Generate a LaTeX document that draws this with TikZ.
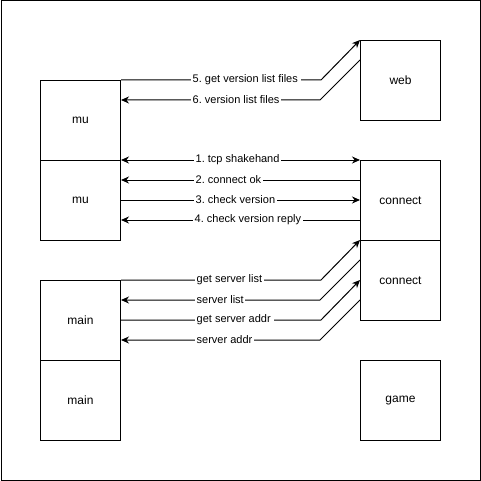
\documentclass[tikz,border=0pt]{standalone}
\usepackage{fontspec}
\setmainfont{Liberation Sans}
\usetikzlibrary{arrows.meta,calc}
\frenchspacing
\begin{document}
\begin{tikzpicture}[x=1pt,y=-1pt,
  box/.style={draw,line width=1pt,minimum width=80pt,minimum height=80pt,inner sep=0pt,font=\fontsize{12}{14}\selectfont,anchor=north west},
  arr/.style={line width=1pt,-{Stealth[length=8pt,width=7pt]}},
  biarr/.style={line width=1pt,{Stealth[length=8pt,width=7pt]}-{Stealth[length=8pt,width=7pt]}},
  lbl/.style={fill=white,inner sep=1.5pt,anchor=west,font=\fontsize{11}{13}\selectfont}]
\useasboundingbox (0,0) rectangle (481,481);
\draw[line width=1pt] (1,1) rectangle (480,480);
\node[box] (mu1) at (40,80) {mu};
\node[box] (mu2) at (40,160) {mu};
\node[box] (main1) at (40,280) {main};
\node[box] (main2) at (40,360) {main};
\node[box] (web) at (360,40) {web};
\node[box] (con1) at (360,160) {connect};
\node[box] (con2) at (360,240) {connect};
\node[box] (game) at (360,360) {game};
% web exchange
\draw[arr] (mu1.north east) -- ++(200,0) -- (web.north west);
\draw[arr] ($(web.north west)+(0,20)$) -- ++(-40,40) -- ($(mu1.north east)+(0,20)$);
% connect exchange
\draw[biarr] (mu2.north east) -- (con1.north west);
\draw[arr] ($(con1.north west)+(0,20)$) -- ($(mu2.north east)+(0,20)$);
\draw[arr] ($(mu2.north east)+(0,40)$) -- ($(con1.north west)+(0,40)$);
\draw[arr] ($(con1.north west)+(0,60)$) -- ($(mu2.north east)+(0,60)$);
% server exchange
\draw[arr] (main1.north east) -- ++(200,0) -- (con2.north west);
\draw[arr] ($(con2.north west)+(0,20)$) -- ++(-40,40) -- ($(main1.north east)+(0,20)$);
\draw[arr] ($(main1.north east)+(0,40)$) -- ++(200,0) -- ($(con2.north west)+(0,40)$);
\draw[arr] ($(con2.north west)+(0,60)$) -- ++(-40,40) -- ($(main1.north east)+(0,60)$);
% labels
\node[lbl] (l5) at (191,80) {5. get version list files\,};
\node[lbl] (l6) at (191,100) {6. version list files};
\node[lbl] (l1) at (194,160) {1. tcp shakehand};
\node[lbl] (l2) at (194,180) {2. connect ok};
\node[lbl] (l3) at (194,200) {3. check version};
\node[lbl] (l4) at (193,220) {4. check version reply};
\node[lbl] (l7) at (195,280) {get server list};
\node[lbl] (l8) at (195,300) {server list};
\node[lbl] (l9) at (195,320) {get server addr\,};
\node[lbl] (l10) at (195,340) {server addr};
\end{tikzpicture}
\end{document}
